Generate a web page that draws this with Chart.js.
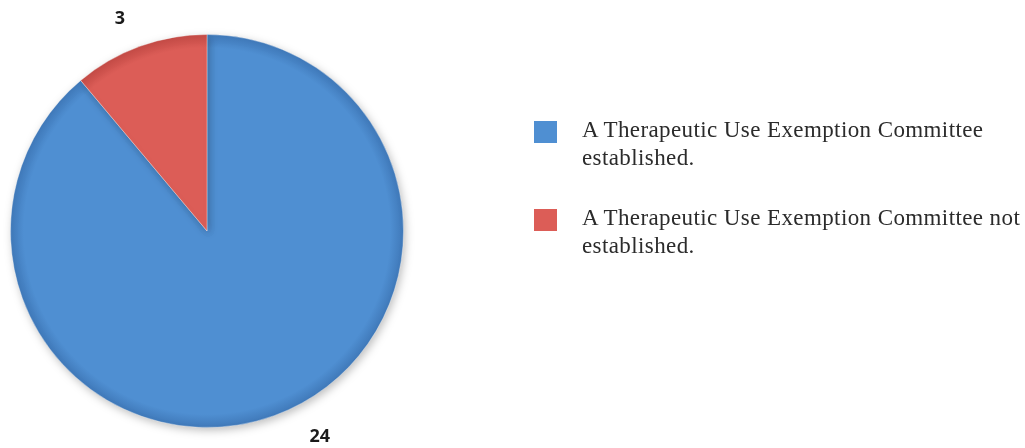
<!DOCTYPE html>
<html>
<head>
<meta charset="utf-8">
<script src="https://cdn.jsdelivr.net/npm/chart.js@4"></script>
<style>
  html, body { margin: 0; padding: 0; background: #fff; }
  #wrap { position: relative; width: 1025px; height: 448px; }
  #legend { position: absolute; left: 534px; top: 116px; width: 491px;
    font-family: "Liberation Serif", "Times New Roman", serif; font-size: 23px; letter-spacing: 0.4px;
    line-height: 28px; color: #2b2b2b; }
  .item { position: relative; padding-left: 48px; margin-bottom: 32px; white-space: nowrap; }
  .box { position: absolute; left: 0; top: 5px; width: 23px; height: 22px; }
</style>
</head>
<body>
<div id="wrap">
  <canvas id="pie" width="1025" height="448"></canvas>
  <div id="legend"></div>
</div>
<script>
const categories = [
  'A Therapeutic Use Exemption Committee established.',
  'A Therapeutic Use Exemption Committee not established.'
];
const counts = [24, 3];
const sliceColors = ['#4f8fd2', '#dc5d57'];
const edgeColors = ['#3f78b8', '#c24a45'];
const labelShift = [-9, -2]; // degrees, nudges outside labels

// legend drawn as html so the long labels wrap like the original
const legend = document.getElementById('legend');
categories.forEach(function(c, i) {
  const item = document.createElement('div');
  item.className = 'item';
  const cut = c.lastIndexOf(' ');
  item.innerHTML = '<span class="box" style="background:' + sliceColors[i] + '"></span>' +
    c.slice(0, cut) + '<br>' + c.slice(cut + 1);
  legend.appendChild(item);
});

function sliceFill(ctx) {
  const chart = ctx.chart;
  const area = chart.chartArea;
  if (!area) return sliceColors[ctx.dataIndex];
  const cx = (area.left + area.right) / 2, cy = (area.top + area.bottom) / 2;
  const r = Math.min(area.right - area.left, area.bottom - area.top) / 2;
  const g = chart.ctx.createRadialGradient(cx, cy, 0, cx, cy, r);
  g.addColorStop(0, sliceColors[ctx.dataIndex]);
  g.addColorStop(0.93, sliceColors[ctx.dataIndex]);
  g.addColorStop(1, edgeColors[ctx.dataIndex]);
  return g;
}

const shadow = {
  id: 'shadow',
  beforeDatasetsDraw(chart) {
    const c = chart.ctx;
    c.save();
    c.shadowColor = 'rgba(0,0,0,0.25)';
    c.shadowBlur = 8;
    c.shadowOffsetX = 2;
    c.shadowOffsetY = 3;
  },
  afterDatasetsDraw(chart) {
    chart.ctx.restore();
  }
};

const outsideLabels = {
  id: 'outsideLabels',
  afterDraw(chart) {
    const c = chart.ctx;
    const meta = chart.getDatasetMeta(0);
    c.save();
    c.font = 'bold 18px "Open Sans", "Liberation Sans", sans-serif';
    c.fillStyle = '#1a1a1a';
    c.textAlign = 'center';
    c.textBaseline = 'middle';
    meta.data.forEach(function(arc, i) {
      const p = arc.getProps(['x', 'y', 'startAngle', 'endAngle', 'outerRadius'], true);
      const a = (p.startAngle + p.endAngle) / 2 + labelShift[i] * Math.PI / 180;
      const r = p.outerRadius + 36;
      c.fillText(String(counts[i]), p.x + r * Math.cos(a), p.y + r * Math.sin(a) + 3);
    });
    c.restore();
  }
};

new Chart(document.getElementById('pie'), {
  type: 'pie',
  data: {
    labels: categories,
    datasets: [{
      data: counts,
      backgroundColor: sliceFill,
      borderColor: 'rgba(255,255,255,0.35)',
      borderWidth: 1
    }]
  },
  options: {
    responsive: false,
    animation: false,
    layout: { padding: { left: 10, top: 34, right: 621, bottom: 20 } },
    plugins: {
      legend: { display: false },
      tooltip: { enabled: false }
    }
  },
  plugins: [shadow, outsideLabels]
});
</script>
</body>
</html>
